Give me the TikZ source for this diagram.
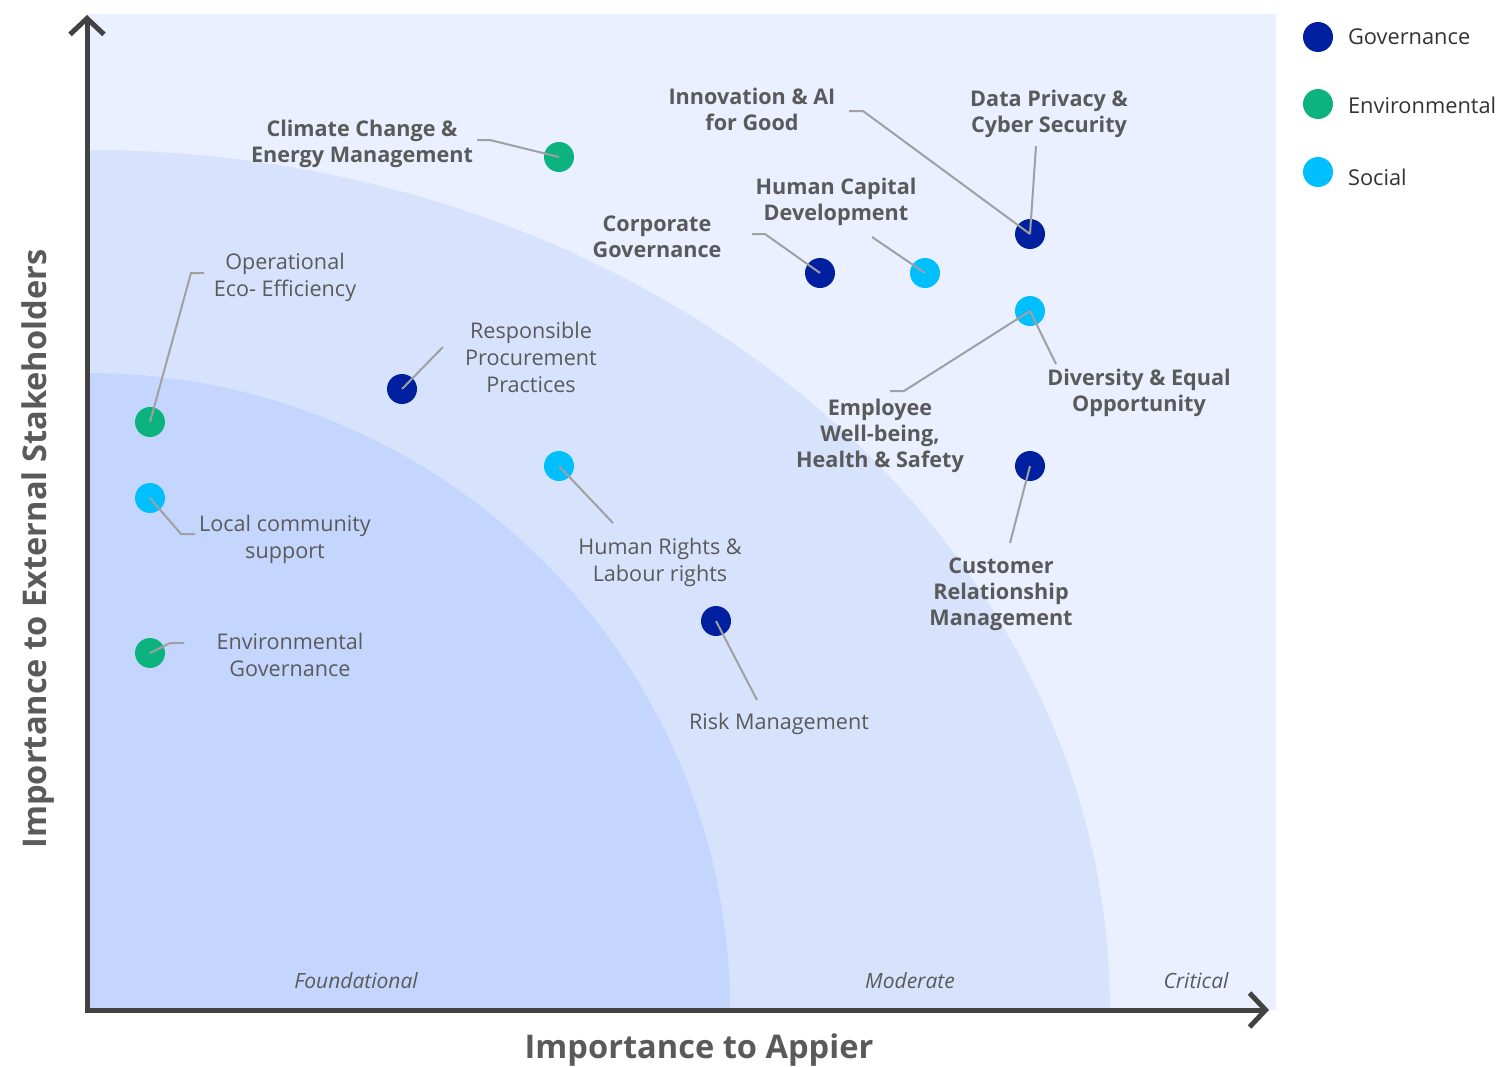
\documentclass[tikz,border=0pt]{standalone}
\usepackage{fontspec}
\setmainfont{Open Sans}
\usetikzlibrary{arrows.meta, positioning}
\definecolor{zonecrit}{HTML}{EAF0FF}
\definecolor{zonemod}{HTML}{D7E2FD}
\definecolor{zonefound}{HTML}{C5D6FE}
\definecolor{gov}{HTML}{00209F}
\definecolor{env}{HTML}{0DB37E}
\definecolor{soc}{HTML}{00BFFF}
\definecolor{txtgray}{HTML}{5A5A5A}
\definecolor{leadgray}{HTML}{A0A0A0}
\definecolor{axisgray}{HTML}{424242}

\begin{document}
\begin{tikzpicture}[x=0.5pt,y=-0.5pt,
    dot/.style={circle, minimum size=15pt, inner sep=0pt},
    topic/.style={font=\fontsize{10.8}{13.5}\selectfont, text=txtgray, align=center, yshift=-0.5pt},
    keytopic/.style={font=\fontsize{10.8}{13}\selectfont\bfseries, text=txtgray, align=center, yshift=-0.3pt},
    zonelbl/.style={font=\fontsize{10.5}{13}\selectfont\itshape, text=txtgray},
    axislbl/.style={font=\fontsize{16.3}{19}\selectfont\bfseries, text=txtgray},
    legendlbl/.style={font=\fontsize{10.9}{13}\selectfont, text=black!80, anchor=west},
    lead/.style={leadgray, line width=1pt}]

\useasboundingbox (0,0) rectangle (1509,1066);

% Zones
\fill[zonecrit] (87,14) rectangle (1276,1010);
\begin{scope}
  \clip (87,14) rectangle (1276,1010);
  \fill[zonemod] (87,1010) ellipse [x radius=1023, y radius=860];
  \fill[zonefound] (87,1010) ellipse [x radius=643, y radius=637];
\end{scope}

\node[zonelbl] (foundational) at (356,981) {Foundational};
\node[zonelbl] (moderate) at (910,981) {Moderate};
\node[zonelbl] (critical) at (1196,981) {Critical};

% Axes
\coordinate (ytop) at (87,15);
\coordinate (origin) at (87,1010);
\coordinate (xend) at (1269,1010);
\draw[axisgray, line width=2.5pt,
    {Straight Barb[length=8pt,width=17pt]}-{Straight Barb[length=8pt,width=17pt]}]
    (ytop) -- (origin) -- (xend);

\node[axislbl] (xtitle) at (699,1050) {Importance to Appier};
\node[axislbl, rotate=90] (ytitle) at (38,549) {Importance to External Stakeholders};

% Topics
\node[dot, fill=env] (climate) at (559,157) {};
\node[dot, fill=env] (opeff) at (150,422) {};
\node[dot, fill=gov] (procure) at (402,389) {};
\node[dot, fill=soc] (community) at (150,498) {};
\node[dot, fill=env] (envgov) at (150,653) {};
\node[dot, fill=soc] (rights) at (559,466) {};
\node[dot, fill=gov] (risk) at (716,621) {};
\node[dot, fill=gov] (privacy) at (1030,234) {};
\node[dot, fill=soc] (humancap) at (925,273) {};
\node[dot, fill=gov] (corpgov) at (820,273) {};
\node[dot, fill=soc] (diversity) at (1030,311) {};
\node[dot, fill=gov] (customer) at (1030,466) {};

\node[keytopic] (climatelbl) at (362,143) {Climate Change \&\\Energy Management};
\node[topic] (opefflbl) at (285,276) {Operational\\Eco- Efficiency};
\node[topic] (procurelbl) at (531,356) {Responsible\\Procurement\\Practices};
\node[topic] (communitylbl) at (285,538) {Local community\\support};
\node[topic] (envgovlbl) at (290,654) {Environmental\\Governance};
\node[topic] (rightslbl) at (660,561) {Human Rights \&\\Labour rights};
\node[topic] (risklbl) at (779,723) {Risk Management};
\node[keytopic] (innovlbl) at (752,109) {Innovation \& AI\\for Good};
\node[keytopic] (privacylbl) at (1049,113) {Data Privacy \&\\Cyber Security};
\node[keytopic] (humancaplbl) at (836,201) {Human Capital\\Development};
\node[keytopic] (corpgovlbl) at (657,236) {Corporate\\Governance};
\node[keytopic] (diversitylbl) at (1139,392) {Diversity \& Equal\\Opportunity};
\node[keytopic] (employeelbl) at (880,435) {Employee\\Well-being,\\Health \& Safety};
\node[keytopic] (customerlbl) at (1001,594) {Customer\\Relationship\\Management};

% Leader lines
\coordinate (climatebend) at (490,140);
\coordinate (climateend) at (477,140);
\coordinate (opeffbend) at (191,273);
\coordinate (opeffend) at (204,273);
\coordinate (procureend) at (443,347);
\coordinate (communitybend) at (181,534);
\coordinate (communityend) at (195,534);
\coordinate (envgovbend) at (170,643);
\coordinate (envgovend) at (184,643);
\coordinate (rightsend) at (613,523);
\coordinate (riskend) at (757,700);
\coordinate (innovbend) at (863,111);
\coordinate (innovend) at (849,111);
\coordinate (privacyend) at (1036,146);
\coordinate (humancapend) at (872,237);
\coordinate (corpgovbend) at (765,234);
\coordinate (corpgovend) at (752,234);
\coordinate (diversityend) at (1056,364);
\coordinate (employeebend) at (904,391);
\coordinate (employeeend) at (890,391);
\coordinate (customerend) at (1010,543);

\draw[lead] (climate.center) -- (climatebend) -- (climateend);
\draw[lead] (opeff.center) -- (opeffbend) -- (opeffend);
\draw[lead] (procure.center) -- (procureend);
\draw[lead] (community.center) -- (communitybend) -- (communityend);
\draw[lead] (envgov.center) -- (envgovbend) -- (envgovend);
\draw[lead] (rights.center) -- (rightsend);
\draw[lead] (risk.center) -- (riskend);
\draw[lead] (privacy.center) -- (innovbend) -- (innovend);
\draw[lead] (privacy.center) -- (privacyend);
\draw[lead] (humancap.center) -- (humancapend);
\draw[lead] (corpgov.center) -- (corpgovbend) -- (corpgovend);
\draw[lead] (diversity.center) -- (diversityend);
\draw[lead] (diversity.center) -- (employeebend) -- (employeeend);
\draw[lead] (customer.center) -- (customerend);

% Legend
\node[dot, fill=gov] (keygov) at (1318,37) {};
\node[dot, fill=env] (keyenv) at (1318,104) {};
\node[dot, fill=soc] (keysoc) at (1318,172) {};
\node[legendlbl] at (1341,37) {Governance};
\node[legendlbl] at (1341,105) {Environmental};
\node[legendlbl] at (1341,177) {Social};

\end{tikzpicture}
\end{document}
